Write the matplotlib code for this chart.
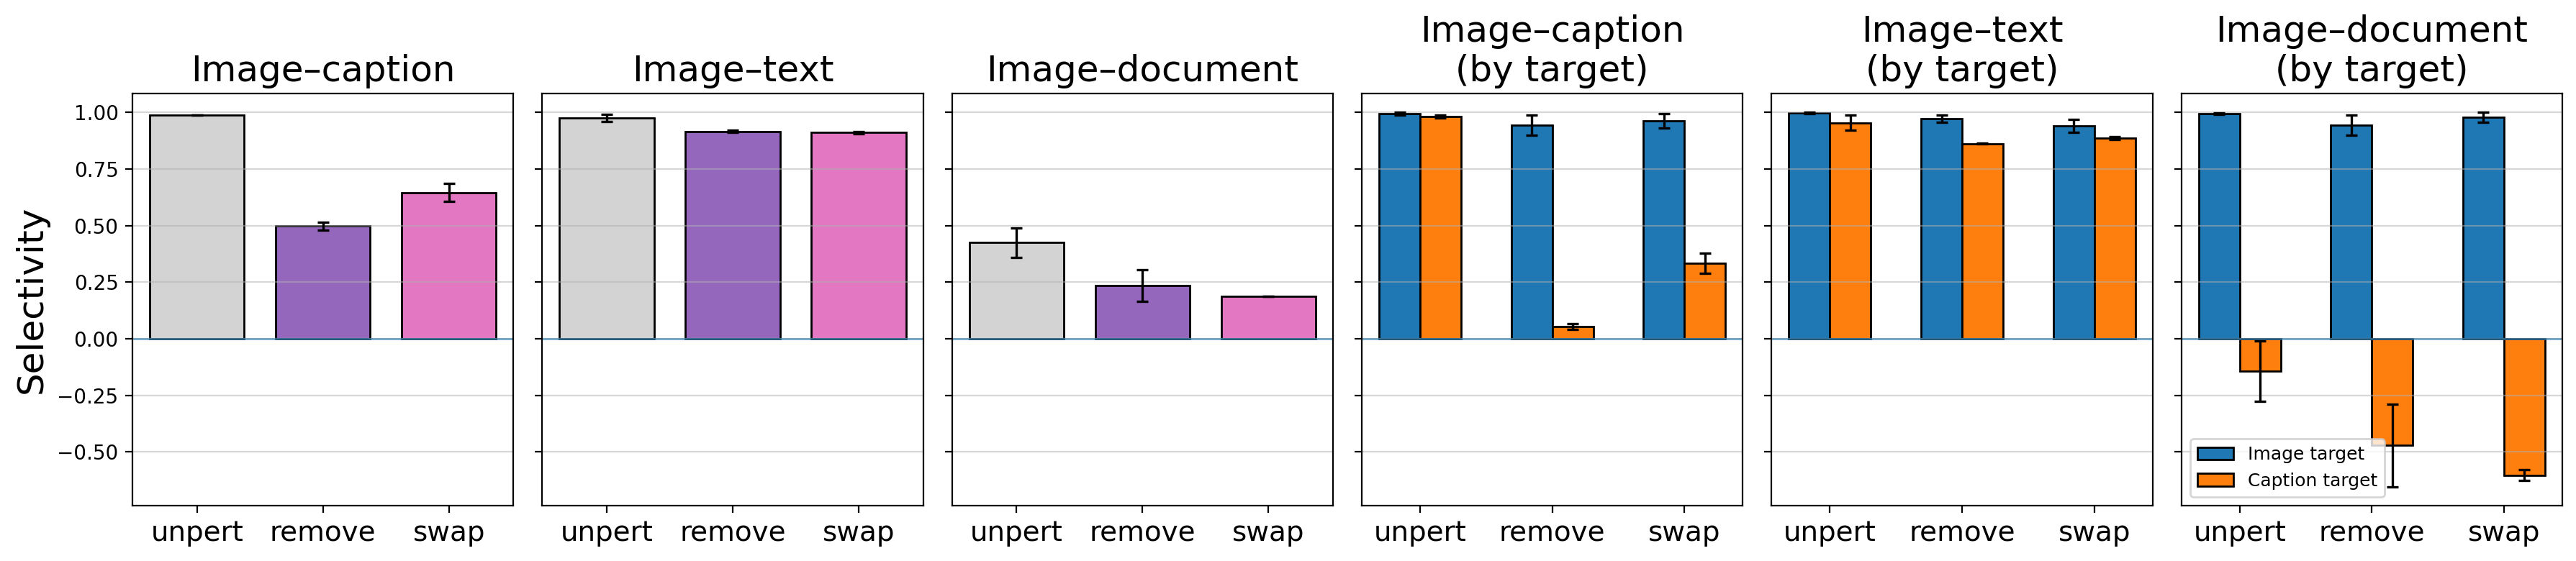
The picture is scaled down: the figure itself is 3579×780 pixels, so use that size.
import numpy as np
import matplotlib
matplotlib.use("Agg")
import matplotlib.pyplot as plt

# conditions on the x axis
conds = ["unpert", "remove", "swap"]

# left three panels: overall selectivity
titles_all = ["Image–caption", "Image–text", "Image–document"]
sel_caption = [0.986, 0.498, 0.646]
err_caption = [0.0, 0.017, 0.039]
sel_text = [0.975, 0.916, 0.910]
err_text = [0.016, 0.006, 0.005]
sel_document = [0.424, 0.234, 0.186]
err_document = [0.064, 0.070, 0.0]

# right three panels: split by target
titles_target = ["Image–caption\n(by target)", "Image–text\n(by target)", "Image–document\n(by target)"]
img_caption = [0.994, 0.943, 0.962]
img_caption_err = [0.005, 0.044, 0.032]
cap_caption = [0.981, 0.054, 0.333]
cap_caption_err = [0.005, 0.012, 0.045]

img_text = [0.997, 0.972, 0.940]
img_text_err = [0.002, 0.017, 0.028]
cap_text = [0.953, 0.861, 0.886]
cap_text_err = [0.033, 0.002, 0.005]

img_document = [0.994, 0.943, 0.978]
img_document_err = [0.003, 0.043, 0.022]
cap_document = [-0.144, -0.471, -0.602]
cap_document_err = [0.133, 0.183, 0.023]

bar_colors = ["lightgray", "tab:purple", "tab:pink"]

fig, axes = plt.subplots(1, 6, figsize=(17.9, 3.9), dpi=200, sharey=True)
fig.subplots_adjust(left=0.0514, right=0.9944, top=0.8333, bottom=0.0987, wspace=0.0756)

ebar = dict(ecolor="black", capsize=3, elinewidth=1.2, capthick=1.2)
x = np.arange(len(conds))

for ax, title, vals, errs in zip(axes[:3], titles_all,
                                 [sel_caption, sel_text, sel_document],
                                 [err_caption, err_text, err_document]):
    ax.bar(x, vals, width=0.75, yerr=errs, color=bar_colors,
           edgecolor="black", linewidth=1.0, error_kw=ebar)
    ax.set_title(title, fontsize=18)

w = 0.31
groups = [(img_caption, img_caption_err, cap_caption, cap_caption_err),
          (img_text, img_text_err, cap_text, cap_text_err),
          (img_document, img_document_err, cap_document, cap_document_err)]
for ax, title, (iv, ie, cv, ce) in zip(axes[3:], titles_target, groups):
    ax.bar(x - w / 2, iv, width=w, yerr=ie, color="tab:blue", edgecolor="black",
           linewidth=1.0, error_kw=ebar, label="Image target")
    ax.bar(x + w / 2, cv, width=w, yerr=ce, color="tab:orange", edgecolor="black",
           linewidth=1.0, error_kw=ebar, label="Caption target")
    ax.set_title(title, fontsize=18)

for ax in axes:
    ax.axhline(0, color="tab:blue", linewidth=1.0, alpha=0.6)
    ax.yaxis.grid(True, alpha=0.5)
    ax.set_xticks(x)
    ax.set_xticklabels(conds, fontsize=14)
    ax.tick_params(axis="y", labelsize=10)

axes[0].set_ylabel("Selectivity", fontsize=18)
axes[5].legend(loc="lower left", fontsize=9)

fig.savefig("out.png", dpi=200)
